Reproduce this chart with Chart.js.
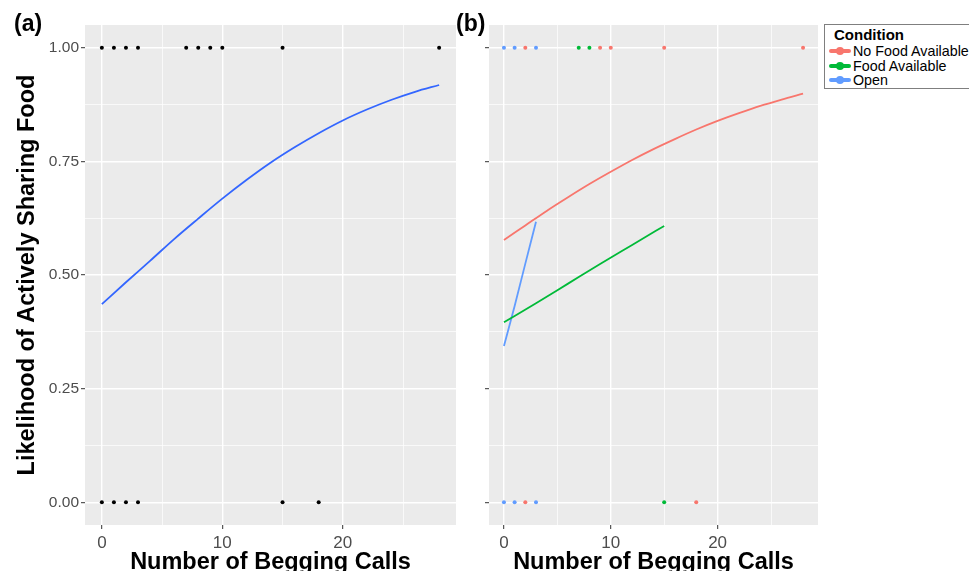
<!DOCTYPE html>
<html>
<head>
<meta charset="utf-8">
<script src="https://cdn.jsdelivr.net/npm/chart.js@4.4.1/dist/chart.umd.min.js"></script>
<style>
  html, body { margin: 0; padding: 0; background: #fff; }
  body { width: 969px; height: 571px; overflow: hidden; position: relative; font-family: "Liberation Sans", Arial, sans-serif; }
  canvas { position: absolute; top: 0; }
  #chartA { left: 0; }
  #chartB { left: 460px; }
  .tag { position: absolute; top: 10px; font-weight: bold; font-size: 23px; color: #000; }
  #legend { position: absolute; left: 824px; top: 24px; width: 160px; height: 65px; border: 1px solid #7f7f7f; box-sizing: border-box; background: #fff; }
  #legend .ttl { font-weight: bold; font-size: 15px; line-height: 18px; padding: 1px 0 0 9px; }
  #legend .row { display: flex; align-items: center; height: 14.5px; font-size: 14.3px; }
  #legend .key { position: relative; width: 22px; height: 14px; margin: 0 2px 0 4px; }
  #legend .key .ln { position: absolute; left: 0; right: 0; top: 5px; height: 4px; border-radius: 2px; }
  #legend .key .dt { position: absolute; left: 7px; top: 3px; width: 8px; height: 8px; border-radius: 50%; }
</style>
</head>
<body>
<canvas id="chartA" width="460" height="585"></canvas>
<canvas id="chartB" width="362" height="585"></canvas>
<div class="tag" style="left:14px">(a)</div>
<div class="tag" style="left:456px">(b)</div>
<div id="legend"></div>

<script>
// axis breaks: labelled majors, minor ones only get a thin grid line
const xBreaks = [0, 5, 10, 15, 20, 25];
const xLabelled = [0, 10, 20];
const yBreaks = [0, 0.125, 0.25, 0.375, 0.5, 0.625, 0.75, 0.875, 1];
const yLabelled = [0, 0.25, 0.5, 0.75, 1];

// begging calls per trial, split by outcome (1 = shared, 0 = not shared)
const sharedCalls = [0, 1, 2, 3, 7, 8, 9, 10, 15, 28];
const notSharedCalls = [0, 1, 2, 3, 15, 18];

// logistic fit over all trials
const fitCalls = [0, 2, 4, 6, 8, 10, 12, 14, 16, 18, 20, 22, 24, 26, 28];
const fitAll = [0.436, 0.484, 0.531, 0.579, 0.624, 0.668, 0.709, 0.747, 0.781, 0.812, 0.840, 0.864, 0.885, 0.903, 0.918];

// per condition
const conditions = ["No Food Available", "Food Available", "Open"];
const condColors = ["#F8766D", "#00BA38", "#619CFF"];
const noFoodShared = [2, 9, 10, 15, 28];
const noFoodNotShared = [2, 18];
const foodShared = [7, 8];
const foodNotShared = [15];
const openShared = [0, 1, 3];
const openNotShared = [0, 1, 3];

const noFoodFitCalls = [0, 2, 4, 6, 8, 10, 12, 14, 16, 18, 20, 22, 24, 26, 28];
const noFoodFit = [0.577, 0.609, 0.641, 0.671, 0.700, 0.727, 0.753, 0.777, 0.799, 0.820, 0.839, 0.856, 0.872, 0.886, 0.899];
const foodFitCalls = [0, 3, 6, 9, 12, 15];
const foodFit = [0.396, 0.438, 0.481, 0.524, 0.566, 0.608];
const openFitCalls = [0, 1, 2, 3];
const openFit = [0.344, 0.432, 0.525, 0.617];

const pts = (calls, y) => calls.map(x => ({ x, y }));
const curve = (xs, ys) => xs.map((x, i) => ({ x, y: ys[i] }));

// grey panel behind the grid
const panelBg = {
  id: "panelBg",
  beforeDraw(chart) {
    const { ctx, chartArea: a } = chart;
    ctx.save();
    ctx.fillStyle = "#EBEBEB";
    ctx.fillRect(a.left, a.top, a.right - a.left, a.bottom - a.top);
    ctx.restore();
  }
};

function scales(yWidth, withYText) {
  return {
    x: {
      type: "linear", min: -1.4, max: 29.4,
      afterBuildTicks: s => { s.ticks = xBreaks.map(v => ({ value: v })); },
      afterFit: s => { s.height = 60; },
      border: { display: false },
      grid: {
        color: "#fff",
        lineWidth: c => xLabelled.includes(c.tick.value) ? 1.4 : 0.7,
        tickColor: c => xLabelled.includes(c.tick.value) ? "#333" : "rgba(0,0,0,0)",
        tickLength: 4, tickWidth: 1
      },
      ticks: {
        color: "#4D4D4D", font: { size: 17 }, padding: 4, maxRotation: 0, autoSkip: false,
        callback: v => xLabelled.includes(v) ? String(v) : ""
      },
      title: {
        display: true, text: "Number of Begging Calls", color: "#000",
        font: { size: 23.5, weight: "bold" }, padding: { top: 0, bottom: 8 }
      }
    },
    y: {
      type: "linear", min: -0.05, max: 1.05,
      afterBuildTicks: s => { s.ticks = yBreaks.map(v => ({ value: v })); },
      afterFit: s => { s.width = yWidth; },
      border: { display: false },
      grid: {
        color: "#fff",
        lineWidth: c => yLabelled.includes(c.tick.value) ? 1.4 : 0.7,
        tickColor: c => yLabelled.includes(c.tick.value) ? "#333" : "rgba(0,0,0,0)",
        tickLength: 4, tickWidth: 1
      },
      ticks: {
        color: "#4D4D4D", font: { size: 15.5 }, padding: 2, autoSkip: false,
        callback: v => withYText && yLabelled.includes(v) ? v.toFixed(2) : ""
      },
      title: {
        display: withYText, text: "Likelihood of Actively Sharing Food", color: "#000",
        font: { size: 23.5, weight: "bold" }, padding: { top: 13, bottom: 0 }
      }
    }
  };
}

Chart.defaults.font.family = "'Liberation Sans', Arial, sans-serif";
const common = {
  responsive: false,
  animation: false,
  plugins: { legend: { display: false }, tooltip: { enabled: false } }
};

const dots = (data, color) => ({ data, pointRadius: 2, pointBackgroundColor: color, pointBorderWidth: 0, showLine: false });
const line = (data, color) => ({ data, showLine: true, pointRadius: 0, borderColor: color, borderWidth: 1.8, cubicInterpolationMode: "monotone" });

new Chart(document.getElementById("chartA"), {
  type: "scatter",
  data: {
    datasets: [
      dots(pts(sharedCalls, 1), "#000"),
      dots(pts(notSharedCalls, 0), "#000"),
      line(curve(fitCalls, fitAll), "#3366FF")
    ]
  },
  options: { ...common, layout: { padding: { top: 25, right: 3, left: 0, bottom: 0 } }, scales: scales(85, true) },
  plugins: [panelBg]
});

new Chart(document.getElementById("chartB"), {
  type: "scatter",
  data: {
    datasets: [
      dots(pts(noFoodShared, 1), condColors[0]),
      dots(pts(noFoodNotShared, 0), condColors[0]),
      dots(pts(foodShared, 1), condColors[1]),
      dots(pts(foodNotShared, 0), condColors[1]),
      dots(pts(openShared, 1), condColors[2]),
      dots(pts(openNotShared, 0), condColors[2]),
      line(curve(noFoodFitCalls, noFoodFit), condColors[0]),
      line(curve(foodFitCalls, foodFit), condColors[1]),
      line(curve(openFitCalls, openFit), condColors[2])
    ]
  },
  options: { ...common, layout: { padding: { top: 25, right: 3, left: 0, bottom: 0 } }, scales: scales(29, false) },
  plugins: [panelBg]
});

// legend box
document.getElementById("legend").innerHTML = '<div class="ttl">Condition</div>' +
  conditions.map((c, i) => `
    <div class="row"><span class="key"><span class="ln" style="background:${condColors[i]}"></span><span class="dt" style="background:${condColors[i]}"></span></span>${c}</div>`).join("");
</script>
</body>
</html>
